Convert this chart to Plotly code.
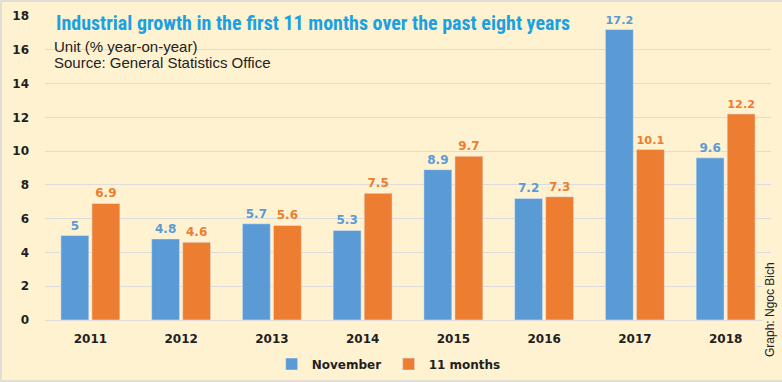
import plotly.graph_objects as go

years = ["2011", "2012", "2013", "2014", "2015", "2016", "2017", "2018"]
november = [5, 4.8, 5.7, 5.3, 8.9, 7.2, 17.2, 9.6]
eleven_months = [6.9, 4.6, 5.6, 7.5, 9.7, 7.3, 10.1, 12.2]
y_ticks = [0, 2, 4, 6, 8, 10, 12, 14, 16, 18]

BLUE = "#5B9BD5"
ORANGE = "#ED7D31"
BG = "#FFF2D0"
DARK = "#1F1F1F"
W, H = 782, 382
ML, MR, MT, MB = 45, 11, 16, 62

fig = go.Figure()
fig.add_trace(go.Bar(
    x=years, y=november, name="November", marker_color=BLUE,
    text=[f"{v:g}" for v in november], textposition="outside",
    textfont=dict(family="DejaVu Sans", size=12, color=BLUE, weight="bold"),
    cliponaxis=False,
))
fig.add_trace(go.Bar(
    x=years, y=eleven_months, name="11 months", marker_color=ORANGE,
    text=[f"{v:g}" for v in eleven_months], textposition="outside",
    textfont=dict(family="DejaVu Sans", size=12, color=ORANGE, weight="bold"),
    cliponaxis=False,
))

pw = W - ML - MR
ph = H - MT - MB

def px_x(p):
    return (p - ML) / pw

def px_y(p):
    return (H - MB - p) / ph

fig.update_layout(
    width=W, height=H,
    margin=dict(l=ML, r=MR, t=MT, b=MB, autoexpand=False),
    paper_bgcolor=BG, plot_bgcolor=BG,
    barmode="group", bargap=0.316, bargroupgap=0.1,
    font=dict(family="DejaVu Sans", color=DARK),
    showlegend=True,
    legend=dict(orientation="h", xref="container", yref="container",
                x=0.497, y=0.047, xanchor="center", yanchor="middle",
                font=dict(family="DejaVu Sans", size=12, color=DARK, weight="bold"),
                bgcolor="rgba(0,0,0,0)", itemwidth=30, entrywidth=72,
                traceorder="normal"),
    xaxis=dict(showgrid=False, showline=False, zeroline=False, automargin=False,
               tickfont=dict(family="DejaVu Sans", size=12, color=DARK, weight="bold"),
               ticklabelstandoff=10),
    yaxis=dict(range=[0, 18], tickvals=y_ticks, showgrid=True, automargin=False,
               gridcolor="#DCDCDC", gridwidth=1, zeroline=True,
               zerolinecolor="#DCDCDC", zerolinewidth=1, showline=False,
               tickfont=dict(family="DejaVu Sans", size=12, color=DARK, weight="bold"),
               ticklabelstandoff=15),
)

fig.add_annotation(
    text='<span style="font-stretch:condensed">'
         'Industrial growth in the first 11 months over the past eight years</span>',
    xref="paper", yref="paper", x=px_x(54), y=px_y(23), xanchor="left", yanchor="middle",
    showarrow=False,
    font=dict(family="Roboto, sans-serif", size=20, color="#1BA1E2", weight="bold"),
)
fig.add_annotation(
    text="Unit (% year-on-year)",
    xref="paper", yref="paper", x=px_x(53), y=px_y(46), xanchor="left", yanchor="middle",
    showarrow=False, borderpad=0,
    font=dict(family="Liberation Sans", size=15, color="#222222"),
)
fig.add_annotation(
    text="Source: General Statistics Office",
    xref="paper", yref="paper", x=px_x(53), y=px_y(63), xanchor="left", yanchor="middle",
    showarrow=False, borderpad=0,
    font=dict(family="Liberation Sans", size=15, color="#222222"),
)
fig.add_annotation(
    text="Graph: Ngoc Bich",
    xref="paper", yref="paper", x=px_x(770), y=px_y(310), xanchor="center", yanchor="middle",
    textangle=-90, showarrow=False, bgcolor=BG, borderpad=0,
    font=dict(family="Liberation Sans", size=12, color="#222222"),
)
fig.add_shape(type="rect", xref="paper", yref="paper",
              x0=px_x(1), x1=px_x(W + 5), y0=px_y(H - 1), y1=px_y(1),
              line=dict(color="#D8D8D8", width=1.5), fillcolor="rgba(0,0,0,0)", layer="above")

fig.write_html(
    "out.html",
    config={"displayModeBar": False},
    post_script="document.body.style.margin='0';document.body.style.padding='0';"
                "document.documentElement.style.background='" + BG + "';",
)
